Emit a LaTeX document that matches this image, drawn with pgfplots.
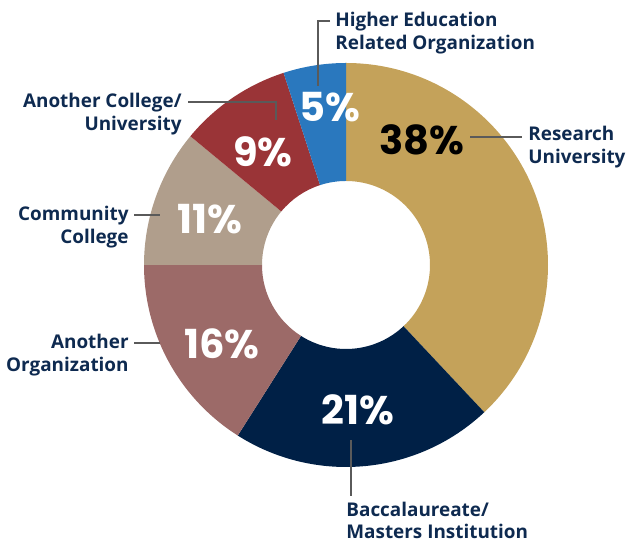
\documentclass[border=0pt]{standalone}
\usepackage{fontspec}
\setmainfont{Open Sans}
\newfontfamily\pctfont{Poppins}
\usepackage{pgfplots}
\usepackage{pgfplotstable}
\pgfplotsset{compat=1.18}
\definecolor{cRes}{RGB}{196,162,90}
\definecolor{cBac}{RGB}{0,32,70}
\definecolor{cOrg}{RGB}{156,106,104}
\definecolor{cCom}{RGB}{176,158,140}
\definecolor{cCol}{RGB}{154,52,55}
\definecolor{cHig}{RGB}{42,120,190}
\definecolor{lbl}{RGB}{14,42,80}
\definecolor{lead}{RGB}{90,90,90}
\pgfplotstableread{
value
38
21
16
11
9
5
}\piedata
\begin{document}
\begin{tikzpicture}
\begin{axis}[hide axis, x=0.5pt, y=0.5pt, xmin=0, xmax=639, ymin=-550, ymax=0, clip=false,
  scale only axis]
\addplot[draw=none] coordinates {(0,0) (639,-550)};
\pgfplotsextra{
  \xdef\cum{0}
  \foreach \i/\col in {0/cRes,1/cBac,2/cOrg,3/cCom,4/cCol,5/cHig} {
    \pgfplotstablegetelem{\i}{value}\of\piedata
    \pgfmathsetmacro\aS{90-3.6*\cum}
    \pgfmathsetmacro\aE{90-3.6*(\cum+\pgfplotsretval)}
    \fill[\col] ([shift={(\aS:101pt)}]axis cs:346,-265) arc[start angle=\aS, end angle=\aE, radius=101pt]
      -- ([shift={(\aE:42pt)}]axis cs:346,-265) arc[start angle=\aE, end angle=\aS, radius=42pt] -- cycle;
    \pgfmathsetmacro\newcum{\cum+\pgfplotsretval}
    \xdef\cum{\newcum}
  }
}
% leader lines
\draw[lead, line width=0.6pt] (axis cs:330,-21) -- (axis cs:318,-21) -- (axis cs:318,-86);
\draw[lead, line width=0.6pt] (axis cs:188,-102) -- (axis cs:276,-102) -- (axis cs:276,-120);
\draw[lead, line width=0.6pt] (axis cs:470,-137) -- (axis cs:522,-137);
\draw[lead, line width=0.6pt] (axis cs:134,-215) -- (axis cs:160,-215);
\draw[lead, line width=0.6pt] (axis cs:134,-343) -- (axis cs:160,-343);
\draw[lead, line width=0.6pt] (axis cs:351,-440) -- (axis cs:351,-496);
% labels
\tikzset{lab/.style={inner sep=0pt, text=lbl, font=\fontsize{9.45}{11}\selectfont\bfseries}}
\node[lab, anchor=base west] at (axis cs:335,-27) {Higher Education};
\node[lab, anchor=base west] at (axis cs:335,-50) {Related Organization};
\node[lab, anchor=base east] at (axis cs:182,-108) {Another College/};
\node[lab, anchor=base east] at (axis cs:182,-131) {University};
\node[lab, anchor=base west] at (axis cs:528,-141) {Research};
\node[lab, anchor=base west] at (axis cs:528,-164) {University};
\node[lab, anchor=base east] at (axis cs:129,-221) {Community};
\node[lab, anchor=base east] at (axis cs:129,-244) {College};
\node[lab, anchor=base east] at (axis cs:129,-349) {Another};
\node[lab, anchor=base east] at (axis cs:129,-372) {Organization};
\node[lab, anchor=base west] at (axis cs:346,-517) {Baccalaureate/};
\node[lab, anchor=base west] at (axis cs:346,-539) {Masters Institution};
% percentages
\tikzset{pct/.style={inner sep=0pt, font=\pctfont\bfseries\fontsize{20}{24}\selectfont}}
\node[pct, text=black] at (axis cs:422,-140) {38\%};
\node[pct, text=white] at (axis cs:330,-107) {5\%};
\node[pct, text=white] at (axis cs:263,-152) {9\%};
\node[pct, text=white] at (axis cs:210,-219) {11\%};
\node[pct, text=white] at (axis cs:222,-344) {16\%};
\node[pct, text=white] at (axis cs:358,-410) {21\%};
\end{axis}
\end{tikzpicture}
\end{document}
